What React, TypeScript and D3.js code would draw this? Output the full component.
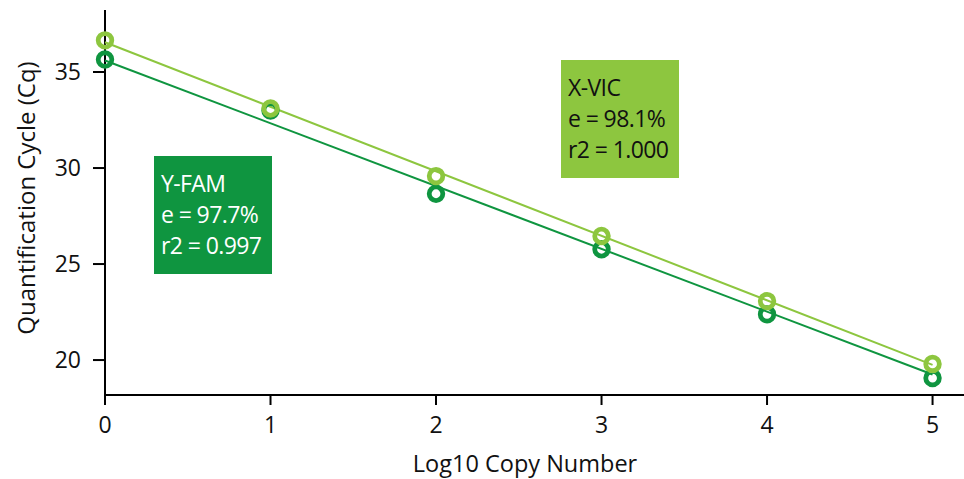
import React from "react";
import * as d3 from "d3";

const copyLog = [0, 1, 2, 3, 4, 5];
const cqVIC = [36.65, 33.1, 29.58, 26.46, 23.07, 19.8];
const cqFAM = [35.65, 33.0, 28.66, 25.77, 22.38, 19.06];
// fitted standard-curve lines (value at x=0 and x=5)
const fitX = [0, 5];
const fitVIC = [36.55, 19.75];
const fitFAM = [35.6, 19.25];
const xTicks = [0, 1, 2, 3, 4, 5];
const yTicks = [20, 25, 30, 35];
const labelVIC = ["X-VIC", "e = 98.1%", "r2 = 1.000"];
const labelFAM = ["Y-FAM", "e = 97.7%", "r2 = 0.997"];

const LIGHT = "#8dc63f";
const DARK = "#0f9540";
const FONT = "'Open Sans', 'Noto Sans', sans-serif";

export default function App() {
  const W = 964, H = 479;
  const x = d3.scaleLinear().domain([0, 5.19]).range([105, 964]);
  const y = d3.scaleLinear().domain([18.18, 38.23]).range([395, 10]);
  const line = d3.line<[number, number]>().x(d => x(d[0])).y(d => y(d[1]));
  const fitPts = (v: number[]) => fitX.map((xx, i) => [xx, v[i]] as [number, number]);

  const box = (lines: string[], bx: number, by: number, fill: string, color: string) => (
    <g>
      <rect x={bx} y={by} width={118} height={118} fill={fill} />
      {lines.map((t, i) => (
        <text key={i} x={bx + 7} y={by + 36 + i * 31} fill={color} fontSize={23} letterSpacing={-0.6} fontFamily={FONT}>{t}</text>
      ))}
    </g>
  );

  return (
    <svg width={W} height={H} style={{ position: "absolute", left: 0, top: 0, background: "#fff" }}>
      {/* axes */}
      <line x1={x(0)} x2={x(0)} y1={y.range()[1]} y2={y.range()[0]} stroke="#000" strokeWidth={2} />
      <line x1={x(0)} x2={x.range()[1]} y1={y.range()[0]} y2={y.range()[0]} stroke="#000" strokeWidth={2} />
      {yTicks.map(t => (
        <g key={t}>
          <line x1={x(0) - 12} x2={x(0)} y1={y(t)} y2={y(t)} stroke="#000" strokeWidth={2} />
          <text x={x(0) - 24} y={y(t)} dy="0.35em" textAnchor="end" fontSize={23} fontFamily={FONT} fill="#111">{t}</text>
        </g>
      ))}
      {xTicks.map(t => (
        <g key={t}>
          <line x1={x(t)} x2={x(t)} y1={y.range()[0]} y2={y.range()[0] + 10} stroke="#000" strokeWidth={2} />
          <text x={x(t)} y={433} textAnchor="middle" fontSize={23} fontFamily={FONT} fill="#111">{t}</text>
        </g>
      ))}
      <text x={525} y={472} textAnchor="middle" fontSize={23.5} fontFamily={FONT} fill="#111">Log10 Copy Number</text>
      <text transform={`translate(35,198) rotate(-90)`} textAnchor="middle" fontSize={24} fontFamily={FONT} fill="#111">Quantification Cycle (Cq)</text>

      {/* fits */}
      <path d={line(fitPts(fitVIC)) || ""} fill="none" stroke={LIGHT} strokeWidth={2} />
      <path d={line(fitPts(fitFAM)) || ""} fill="none" stroke={DARK} strokeWidth={2} />

      {/* points */}
      {copyLog.map((c, i) => (
        <circle key={"f" + i} cx={x(c)} cy={y(cqFAM[i])} r={6.8} fill="none" stroke={DARK} strokeWidth={4.8} />
      ))}
      {copyLog.map((c, i) => (
        <circle key={"v" + i} cx={x(c)} cy={y(cqVIC[i])} r={6.8} fill="none" stroke={LIGHT} strokeWidth={4.8} />
      ))}

      {box(labelFAM, 154, 156, DARK, "#fff")}
      {box(labelVIC, 561, 60, LIGHT, "#111")}
    </svg>
  );
}
